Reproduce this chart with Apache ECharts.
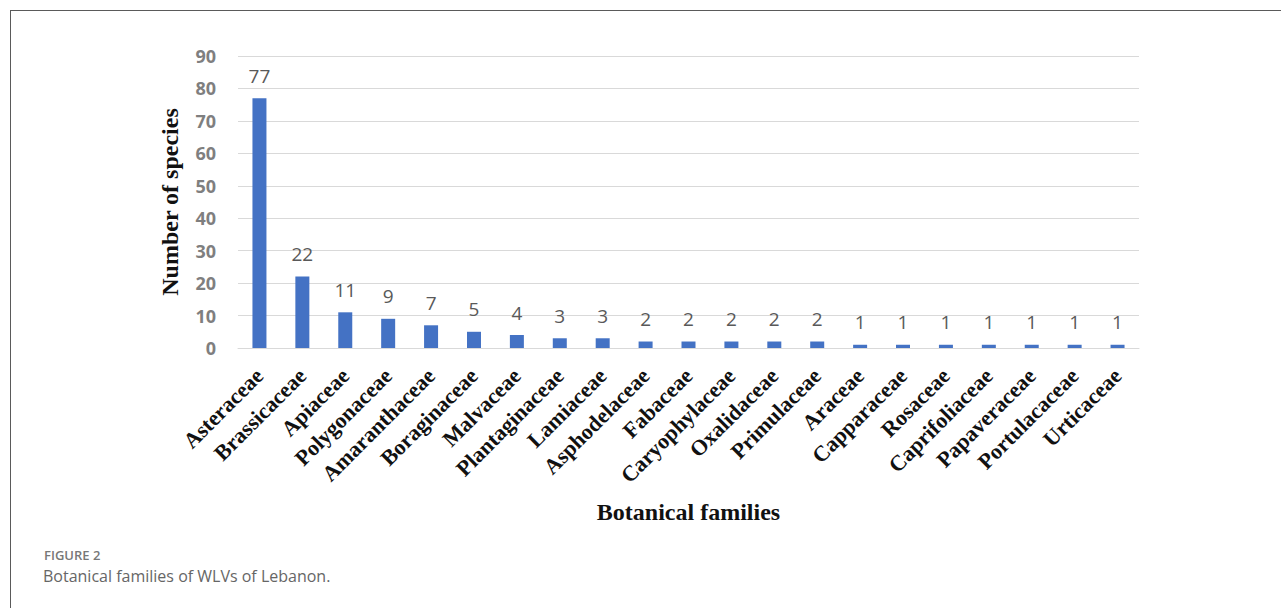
<!DOCTYPE html>
<html>
<head>
<meta charset="utf-8">
<script src="https://cdn.jsdelivr.net/npm/echarts@6/dist/echarts.min.js"></script>
<style>
html,body{margin:0;padding:0;background:#fff;}
#frame{position:absolute;left:10px;top:10px;width:1271px;height:598px;border-left:1px solid #5a5a5a;border-top:1px solid #5a5a5a;}
#chart{position:absolute;left:0;top:0;width:1281px;height:608px;}
</style>
</head>
<body>
<div id="frame"></div>
<div id="chart"></div>
<script>
const categories = ["Asteraceae","Brassicaceae","Apiaceae","Polygonaceae","Amaranthaceae","Boraginaceae","Malvaceae","Plantaginaceae","Lamiaceae","Asphodelaceae","Fabaceae","Caryophylaceae","Oxalidaceae","Primulaceae","Araceae","Capparaceae","Rosaceae","Caprifoliaceae","Papaveraceae","Portulacaceae","Urticaceae"];
const speciesCounts = [77,22,11,9,7,5,4,3,3,2,2,2,2,2,1,1,1,1,1,1,1];
const yTicks = [0,10,20,30,40,50,60,70,80,90];
const xTitle = "Botanical families";
const yTitle = "Number of species";
const figLabel = "FIGURE 2";
const figCaption = "Botanical families of WLVs of Lebanon.";

const chart = echarts.init(document.getElementById('chart'), null, {renderer:'svg'});
chart.setOption({
  animation:false,
  backgroundColor:'transparent',
  grid:{left:238, right:142, top:56, bottom:260, containLabel:false},
  xAxis:{
    type:'category',
    data:categories,
    name:xTitle,
    nameLocation:'middle',
    nameGap:152,
    nameTextStyle:{fontFamily:'Liberation Serif', fontWeight:'bold', fontSize:24, color:'#111'},
    axisLine:{lineStyle:{color:'#d9d9d9', width:1}},
    axisTick:{show:false},
    axisLabel:{rotate:45, interval:0, margin:24, fontFamily:'Liberation Serif', fontWeight:'bold', fontSize:22, color:'#111'}
  },
  yAxis:{
    type:'value',
    min:yTicks[0], max:yTicks[yTicks.length-1], interval:10,
    name:yTitle,
    nameLocation:'middle',
    nameGap:56,
    nameRotate:90,
    nameTextStyle:{fontFamily:'Liberation Serif', fontWeight:'bold', fontSize:24, color:'#111'},
    axisLine:{show:false},
    axisTick:{show:false},
    splitLine:{lineStyle:{color:'#d9d9d9', width:1}},
    axisLabel:{margin:22, fontFamily:'Open Sans', fontWeight:'bold', fontSize:18, color:'#7f7f7f'}
  },
  series:[{
    type:'bar',
    data:speciesCounts,
    barWidth:14,
    itemStyle:{color:'#4472c4'},
    label:{show:true, position:'top', distance:13, fontFamily:'Open Sans', fontSize:19, color:'#595959'}
  }],
  graphic:[
    {type:'text', left:44, top:548, style:{text:figLabel, font:'600 13px "Open Sans"', fill:'#777'}},
    {type:'text', left:43, top:568, style:{text:figCaption, font:'16px "Open Sans"', fill:'#666'}}
  ]
});
</script>
</body>
</html>
